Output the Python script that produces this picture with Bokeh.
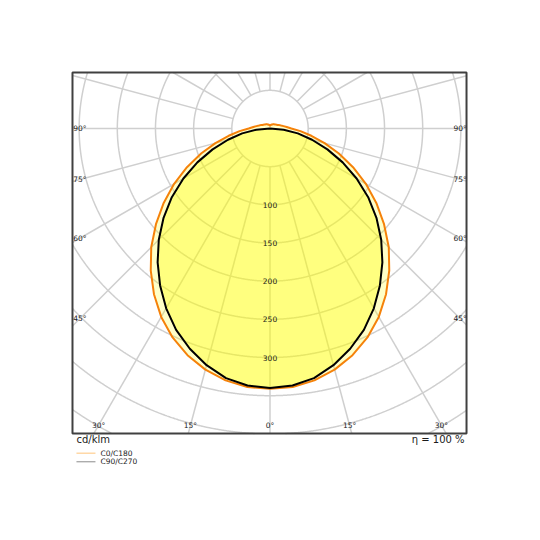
import numpy as np
from bokeh.plotting import figure
from bokeh.models import Range1d
from bokeh.core.properties import value
from bokeh.embed import file_html
from bokeh.resources import INLINE

# ---- data (cd/klm) ----
gamma = [0, 5, 10, 15, 20, 25, 30, 35, 40, 45, 50, 55, 60, 65, 70, 75, 80, 85, 90,
         95, 100, 105, 110, 115, 120, 125, 130, 135, 140, 145, 150, 155, 160, 165, 170, 175, 180]
c0_c180 = [341, 340, 335, 327, 316, 302, 285, 265, 243, 220, 195, 170, 145, 120, 96, 74, 55, 40, 28,
           22, 18, 15, 13, 11, 10, 9, 8, 8, 7, 7, 6, 6, 5, 5, 5, 4, 3]
c90_c270 = [340, 338, 332, 321, 307, 291, 272, 251, 229, 206, 182, 157, 131, 105, 80, 57, 37, 18, 0,
            0, 0, 0, 0, 0, 0, 0, 0, 0, 0, 0, 0, 0, 0, 0, 0, 0, 0]
series_names = ["C0/C180", "C90/C270"]
ring_values = [50, 100, 150, 200, 250, 300, 350, 400, 450, 500]
ring_labels = [100, 150, 200, 250, 300]
spoke_angles = list(range(0, 360, 15))
angle_labels = [-30, -15, 0, 15, 30, 45, 60, 75, 90]
unit_text = "cd/klm"
eta_text = "η = 100 %"

FONT = "DejaVu Sans"
GRID = "#cfcfcf"
TXT = "#1a1a1a"

# diagram box (data units, origin = luminaire centre)
BX0, BX1, BY0, BY1 = -258.7, 257.4, -399.5, 73.35

p = figure(width=540, height=540, output_backend="svg", toolbar_location=None,
           x_axis_location=None, y_axis_location=None,
           x_range=Range1d(-353.0, 354.3), y_range=Range1d(-539.7, 167.67),
           min_border=0, background_fill_color="white", border_fill_color="white")
p.grid.visible = False
p.outline_line_color = None


def inside(x, y):
    return (x >= BX0) & (x <= BX1) & (y >= BY0) & (y <= BY1)


# grid rings clipped to the box
th = np.linspace(0, 2 * np.pi, 2881)
ring_xs, ring_ys = [], []
for r in ring_values:
    x, y = r * np.cos(th), r * np.sin(th)
    m = inside(x, y)
    x = np.where(m, x, np.nan)
    y = np.where(m, y, np.nan)
    ring_xs.append(list(x)); ring_ys.append(list(y))
p.multi_line(ring_xs, ring_ys, line_color=GRID, line_width=1.5)

# spokes from the 50 ring to the box edge
r_in = ring_values[0]
xs0, ys0, xs1, ys1 = [], [], [], []
for a in spoke_angles:
    t = np.radians(a)
    dx, dy = np.sin(t), -np.cos(t)
    cands = []
    if dx > 1e-9: cands.append(BX1 / dx)
    if dx < -1e-9: cands.append(BX0 / dx)
    if dy > 1e-9: cands.append(BY1 / dy)
    if dy < -1e-9: cands.append(BY0 / dy)
    tm = min(cands)
    xs0.append(r_in * dx); ys0.append(r_in * dy)
    xs1.append(tm * dx); ys1.append(tm * dy)
p.segment(xs0, ys0, xs1, ys1, line_color=GRID, line_width=1.5)


def outline(vals):
    g = np.radians(np.array(gamma, dtype=float))
    v = np.array(vals, dtype=float)
    xr, yr = v * np.sin(g), -v * np.cos(g)
    xl, yl = -v[::-1] * np.sin(g[::-1]), -v[::-1] * np.cos(g[::-1])
    return list(np.concatenate([xr, xl])), list(np.concatenate([yr, yl]))


ox, oy = outline(c0_c180)
p.patch(ox, oy, fill_color="#ffff00", fill_alpha=0.22, line_color="#f5820a", line_width=2)
bx, by = outline(c90_c270)
p.patch(bx, by, fill_color="#ffff00", fill_alpha=0.36, line_color="#000000", line_width=2)

# box
p.quad(left=[BX0], right=[BX1], bottom=[BY0], top=[BY1], fill_color=None,
       line_color="#404040", line_width=2)

# ring labels
p.text(x=[0] * len(ring_labels), y=[-v for v in ring_labels], text=[str(v) for v in ring_labels],
       text_font=value(FONT), text_font_size="7.5px", text_color=TXT,
       text_align="center", text_baseline="middle")

# angle labels (centred on their spoke, inset from the box)
side_x, bottom_y = 248.9, 389.0
lx, ly, lt = [], [], []
for a in angle_labels:
    t = np.radians(abs(a))
    rr = min(bottom_y / np.cos(t) if np.cos(t) > 1e-9 else 1e9,
             side_x / np.sin(t) if np.sin(t) > 1e-9 else 1e9)
    sgns = [1, -1] if a >= 45 else [np.sign(a) if a != 0 else 1]
    for sgn in sgns:
        lx.append(sgn * rr * np.sin(t)); ly.append(-rr * np.cos(t)); lt.append(f"{abs(a)}°")
p.text(x=lx, y=ly, text=lt, text_font=value(FONT), text_font_size="7.5px", text_color=TXT,
       text_align="center", text_baseline="middle")

# texts under the box
p.text(x=[BX0 + 5.2], y=[BY0 - 8.5], text=[unit_text], text_font=value(FONT), text_font_size="10px",
       text_color=TXT, text_align="left", text_baseline="middle")
p.text(x=[BX1 - 2.6], y=[BY0 - 8.5], text=[eta_text], text_font=value(FONT), text_font_size="10px",
       text_color=TXT, text_align="right", text_baseline="middle")

leg_colors = ["#ffc47a", "#8c8c8c"]
leg_y = [BY0 - 25.8, BY0 - 37.1]
p.segment([BX0 + 5.2] * 2, leg_y, [BX0 + 30.1] * 2, leg_y, line_color=leg_colors, line_width=1)
p.text(x=[BX0 + 36.7] * 2, y=leg_y, text=series_names, text_font=value(FONT), text_font_size="7.5px",
       text_color=TXT, text_align="left", text_baseline="middle")

open("out.html", "w").write(file_html(p, INLINE))
